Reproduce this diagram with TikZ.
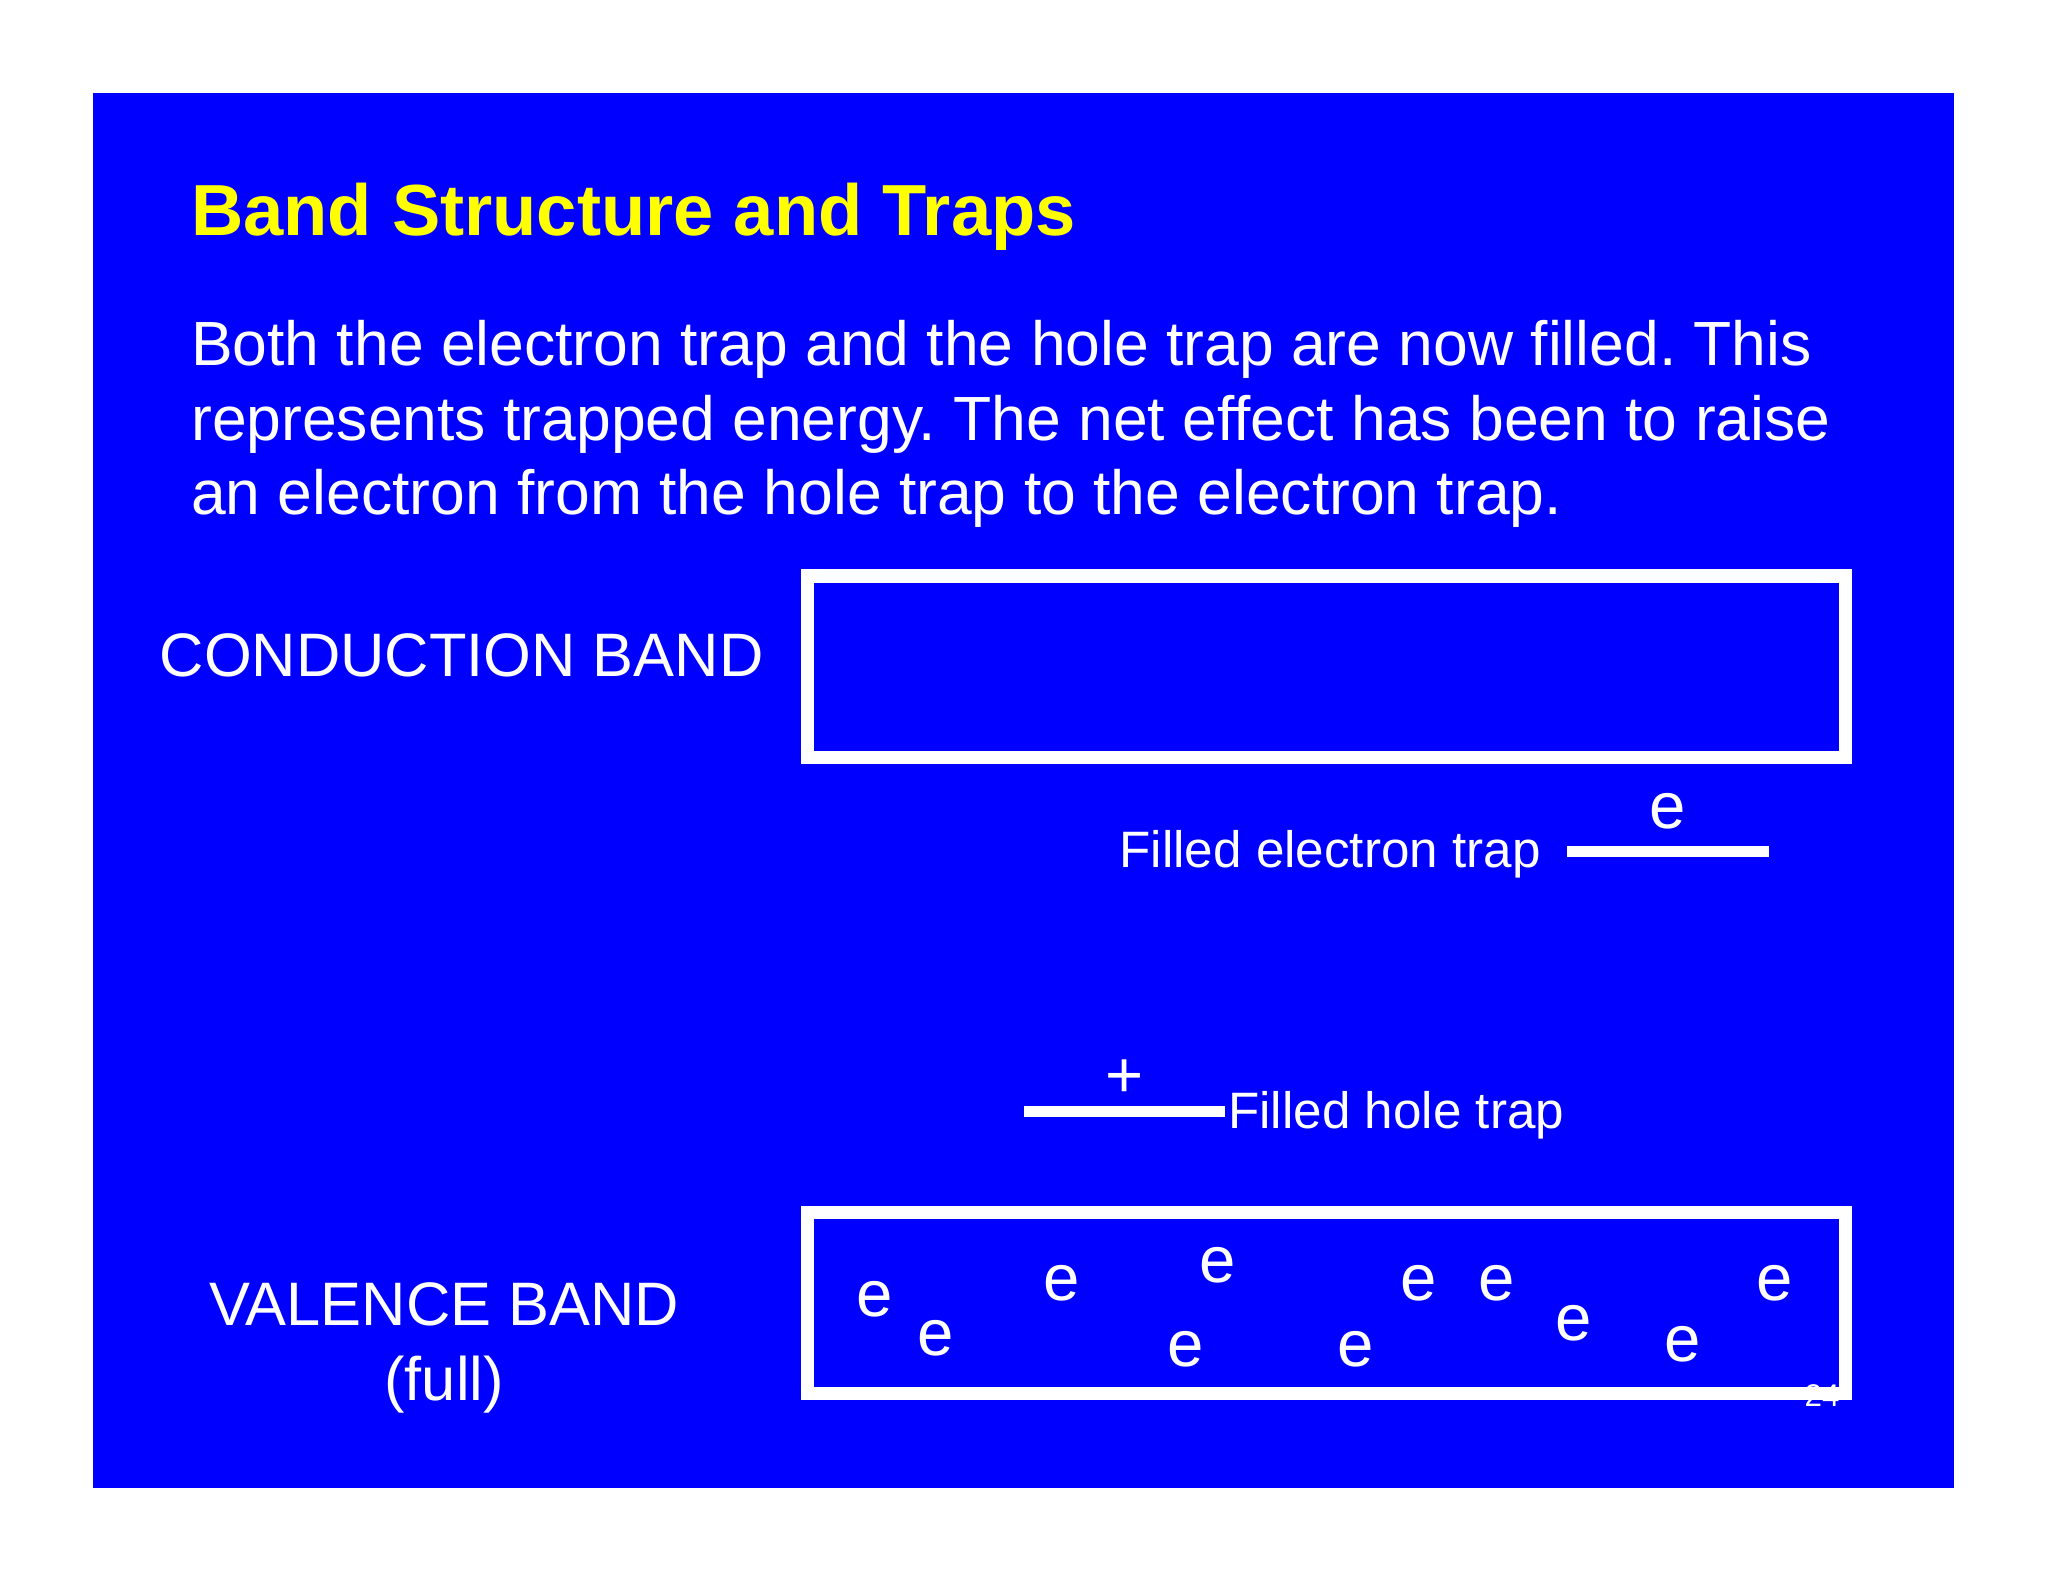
\documentclass[tikz,border=0pt]{standalone}
\usepackage{fontspec}
\setmainfont{Liberation Sans}
\frenchspacing
\definecolor{slide}{RGB}{0,0,255}
\definecolor{ttl}{RGB}{255,255,0}
\begin{document}
\begin{tikzpicture}[x=0.5pt,y=-0.5pt,
  bandbox/.style={draw=white,line width=5pt},
  trapline/.style={draw=white,line width=4pt},
  txt/.style={text=white,inner sep=0pt,anchor=base west},
  elec/.style={text=white,inner sep=0pt,anchor=base,font=\fontsize{25}{30}\selectfont}]
\useasboundingbox (0,0) rectangle (1568,1211);
\fill[white] (0,0) rectangle (1568,1211);
\fill[slide] (71,71) rectangle (1496,1139);
\node[txt,text=ttl,font=\fontsize{27.7}{34}\selectfont\bfseries] (title) at (146,180) {Band Structure and Traps};
\node[txt,font=\fontsize{23.9}{28.5}\selectfont,align=left,anchor=base west] (body) at (146,394)
  {Both the electron trap and the hole trap are now filled. This\\represents trapped energy. The net effect has been to raise\\an electron from the hole trap to the electron trap.};
\draw[bandbox] (618,441) rectangle (1413,580);
\node[txt,anchor=base east,font=\fontsize{23.5}{28}\selectfont] (cb) at (585,518) {CONDUCTION BAND};
\draw[trapline] (1200,652) coordinate (et1) -- (1354,652) coordinate (et2);
\node[elec] (ee) at (1277,634) {e};
\node[txt,anchor=base east,font=\fontsize{19.6}{23}\selectfont] (fet) at (1180,664) {Filled electron trap};
\draw[trapline] (784,851) coordinate (ht1) -- (938,851) coordinate (ht2);
\node[elec] (plus) at (861,840) {+};
\node[txt,font=\fontsize{19.6}{23}\selectfont] (fht) at (940,864) {Filled hole trap};
\draw[bandbox] (618,928) rectangle (1413,1067);
\node[txt,anchor=base,font=\fontsize{23.5}{28.5}\selectfont,align=center] (vb) at (340,1072) {VALENCE BAND\\(full)};
\foreach \x/\y [count=\i] in {670/1008,716/1038,813/996,932/982,908/1046,1038/1046,1086/996,1146/996,1205/1026,1288/1042,1359/996}
  \node[elec] (v\i) at (\x,\y) {e};
\node[txt,anchor=base,font=\fontsize{12}{14}\selectfont] (pg) at (1395,1077) {24};
\end{tikzpicture}
\end{document}
